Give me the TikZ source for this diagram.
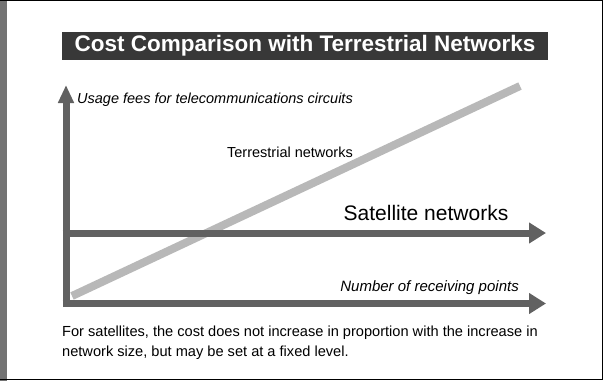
\documentclass[tikz,border=0pt]{standalone}
\usepackage{fontspec}
\setmainfont{Liberation Sans}
\usetikzlibrary{arrows.meta}

\tikzset{
  fatarrow/.style={line width=7pt, draw=black!62, -{Triangle[length=17pt,width=20pt]}},
  uparrow/.style={line width=7pt, draw=black!62, -{Triangle[length=18pt,width=15pt]}},
  band/.style={line width=8pt, draw=black!28},
  lbl/.style={inner sep=0pt},
}

\begin{document}
\begin{tikzpicture}[x=1pt,y=-1pt]
    \useasboundingbox (0,0) rectangle (605,381);
    % scanned page frame
    \fill[black!55] (0,0) rectangle (7,381);
    \draw[line width=1.2pt] (0,0.6) -- (602.5,0.6) -- (602.5,379.5) -- (0,379.5);
    % title bar
    \node[fill=black!78, minimum width=486pt, minimum height=28pt, inner sep=0pt,
          text=white, font=\fontsize{22.5}{24}\selectfont\bfseries] (title) at (305,46)
          {Cost Comparison with Terrestrial Networks};
    % points of the graph
    \coordinate (ybot) at (66,307);
    \coordinate (ytip) at (66,85);
    \coordinate (xstart) at (62.5,303.5);
    \coordinate (xtip) at (546,303.5);
    \coordinate (sstart) at (62.5,233);
    \coordinate (stip) at (546,233);
    \coordinate (tstart) at (72,296);
    \coordinate (tend) at (520,86);
    % terrestrial cost rises
    \draw[band] (tstart) -- (tend);
    % axes and satellite cost
    \draw[uparrow] (ybot) -- (ytip);
    \draw[fatarrow] (xstart) -- (xtip);
    \draw[fatarrow] (sstart) -- (stip);
    \node[lbl, right, font=\fontsize{14.5}{16}\selectfont\itshape] (ylabel) at (77,100)
          {Usage fees for telecommunications circuits};
    \node[lbl, font=\fontsize{14.5}{16}\selectfont] (tlabel) at (290,152) {Terrestrial networks};
    \node[lbl, font=\fontsize{21}{24}\selectfont] (slabel) at (426,213) {Satellite networks};
    \node[lbl, left, font=\fontsize{15}{17}\selectfont\itshape] (xlabel) at (519,288)
          {Number of receiving points};
    \node[lbl, right, align=left, font=\fontsize{14.6}{19.5}\selectfont] (caption) at (62,342.5)
          {For satellites, the cost does not increase in proportion with the increase in\\
           network size, but may be set at a fixed level.};
\end{tikzpicture}
\end{document}
